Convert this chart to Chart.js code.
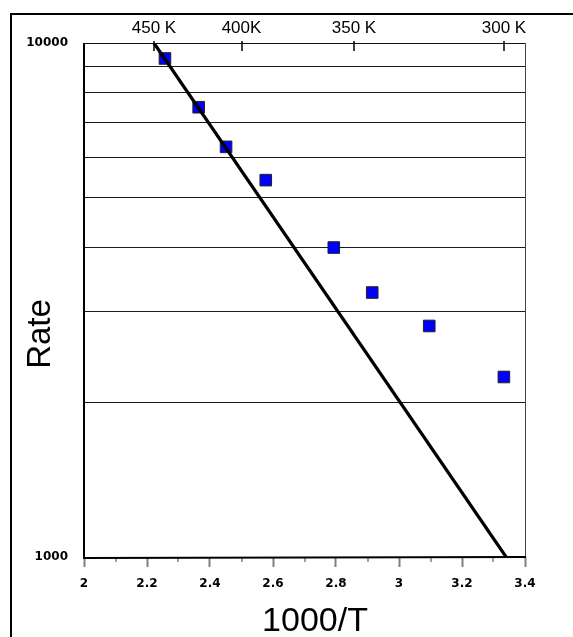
<!DOCTYPE html>
<html>
<head>
<meta charset="utf-8">
<script src="https://cdn.jsdelivr.net/npm/chart.js@4/dist/chart.umd.min.js"></script>
<style>
  html, body { margin: 0; padding: 0; background: #fff; }
  #wrap { width: 573px; height: 637px; }
</style>
</head>
<body>
<div id="wrap"><canvas id="c" width="573" height="637"></canvas></div>
<script>
// Measured rates against inverse temperature
const invT = [2.257, 2.364, 2.451, 2.577, 2.793, 2.915, 3.096, 3.333];
const rate = [9330, 7500, 6280, 5410, 4000, 3270, 2815, 2240];

// Arrhenius fit line (end points)
const fitInvT = [2.222, 3.34];
const fitRate = [10000, 1000];

// Temperature axis along the top
const tempK = [450, 400, 350, 300];
const tempLabels = ['450 K', '400K', '350 K', '300 K'];

// Axis ticks
const xMin = 2, xMax = 3.4, xStep = 0.2;
const minorTicks = [2.1, 2.3, 2.5, 2.7, 2.9, 3.1, 3.3];
const yMin = 1000, yMax = 10000;
const yGridValues = [1000, 2000, 3000, 4000, 5000, 6000, 7000, 8000, 9000, 10000];
const yLabelValues = [1000, 10000];

const xTitle = '1000/T';
const yTitle = 'Rate';

const tickFont = { family: 'DejaVu Sans', weight: 'bold', size: 12 };

const framePlugin = {
  id: 'frame',
  beforeDatasetsDraw(chart) {
    const { ctx, chartArea: a, scales } = chart;
    ctx.save();
    ctx.lineCap = 'butt';
    // top and right edges of the plot
    ctx.strokeStyle = '#111';
    ctx.lineWidth = 1;
    ctx.beginPath();
    ctx.moveTo(a.left, a.top + 0.5); ctx.lineTo(a.right, a.top + 0.5);
    ctx.stroke();
    ctx.strokeStyle = '#444';
    ctx.beginPath();
    ctx.moveTo(a.right + 0.5, a.top); ctx.lineTo(a.right + 0.5, a.bottom);
    ctx.stroke();
    // minor ticks below the x axis
    ctx.strokeStyle = '#808080';
    ctx.lineWidth = 1.5;
    minorTicks.forEach(v => {
      const px = Math.round(scales.x.getPixelForValue(v));
      ctx.beginPath();
      ctx.moveTo(px, a.bottom); ctx.lineTo(px, a.bottom + 5);
      ctx.stroke();
    });
    // temperature ticks pointing into the plot
    ctx.strokeStyle = '#000';
    ctx.lineWidth = 1.5;
    scales.x2.ticks.forEach(t => {
      const px = Math.round(scales.x2.getPixelForValue(t.value));
      ctx.beginPath();
      ctx.moveTo(px, a.top - 2); ctx.lineTo(px, a.top + 8);
      ctx.stroke();
    });
    // left and bottom axis lines
    ctx.strokeStyle = '#000';
    ctx.lineWidth = 2;
    ctx.beginPath();
    ctx.moveTo(a.left, a.top); ctx.lineTo(a.left, a.bottom + 1);
    ctx.lineTo(a.right + 1, a.bottom);
    ctx.stroke();
    ctx.restore();
  },
  afterDraw(chart) {
    const { ctx, width, height } = chart;
    ctx.save();
    // outer frame
    ctx.strokeStyle = '#000';
    ctx.lineWidth = 2;
    ctx.beginPath();
    ctx.moveTo(width + 2, 14); ctx.lineTo(11, 14); ctx.lineTo(11, height + 2);
    ctx.stroke();
    // axis titles
    ctx.fillStyle = '#000';
    ctx.font = '34px "Liberation Sans", Arial, sans-serif';
    ctx.textAlign = 'center';
    ctx.textBaseline = 'alphabetic';
    ctx.fillText(xTitle, 315, 631);
    ctx.font = '33px "Liberation Sans", Arial, sans-serif';
    ctx.translate(50, 334);
    ctx.rotate(-Math.PI / 2);
    ctx.fillText(yTitle, 0, 0);
    ctx.restore();
  }
};

new Chart(document.getElementById('c'), {
  type: 'scatter',
  data: {
    datasets: [
      {
        type: 'line',
        data: fitInvT.map((x, i) => ({ x, y: fitRate[i] })),
        borderColor: '#000',
        borderWidth: 3.2,
        pointRadius: 0,
        fill: false,
        order: 0,
        xAxisID: 'x',
        yAxisID: 'y'
      },
      {
        data: invT.map((x, i) => ({ x, y: rate[i] })),
        pointStyle: 'rect',
        pointRadius: 8.2,
        backgroundColor: '#0000ff',
        borderColor: '#222',
        borderWidth: 1,
        order: 1,
        xAxisID: 'x',
        yAxisID: 'y'
      }
    ]
  },
  options: {
    responsive: false,
    animation: false,
    layout: { padding: { left: 0, right: 48, top: 0, bottom: 0 } },
    plugins: { legend: { display: false }, tooltip: { enabled: false } },
    scales: {
      x: {
        type: 'linear',
        position: 'bottom',
        min: xMin,
        max: xMax,
        ticks: {
          stepSize: xStep,
          padding: 10,
          color: '#000',
          font: tickFont,
          autoSkip: false,
          maxRotation: 0,
          callback: v => String(Number(v.toFixed(1)))
        },
        grid: {
          drawOnChartArea: false,
          tickLength: 10,
          tickColor: '#808080',
          tickWidth: 2
        },
        border: { display: false },
        afterFit(s) { s.height = 80; }
      },
      x2: {
        type: 'linear',
        position: 'top',
        min: xMin,
        max: xMax,
        afterBuildTicks(s) { s.ticks = tempK.map(t => ({ value: 1000 / t })); },
        ticks: {
          callback: (v, i) => tempLabels[i],
          color: '#000',
          font: { family: 'Liberation Sans', size: 17 },
          padding: 4,
          autoSkip: false,
          maxRotation: 0
        },
        grid: { display: false, drawTicks: false },
        border: { display: false },
        afterFit(s) { s.height = 43; }
      },
      y: {
        type: 'logarithmic',
        position: 'left',
        min: yMin,
        max: yMax,
        afterBuildTicks(s) { s.ticks = yGridValues.map(v => ({ value: v })); },
        ticks: {
          padding: 16,
          color: '#000',
          font: tickFont,
          autoSkip: false,
          callback: v => (yLabelValues.includes(v) ? String(v) : '')
        },
        grid: {
          drawTicks: false,
          lineWidth: 1,
          color: c => (c.tick && yLabelValues.includes(c.tick.value)) ? 'rgba(0,0,0,0)' : '#1a1a1a'
        },
        border: { display: false },
        afterFit(s) { s.width = 84; }
      }
    }
  },
  plugins: [framePlugin]
});
</script>
</body>
</html>
